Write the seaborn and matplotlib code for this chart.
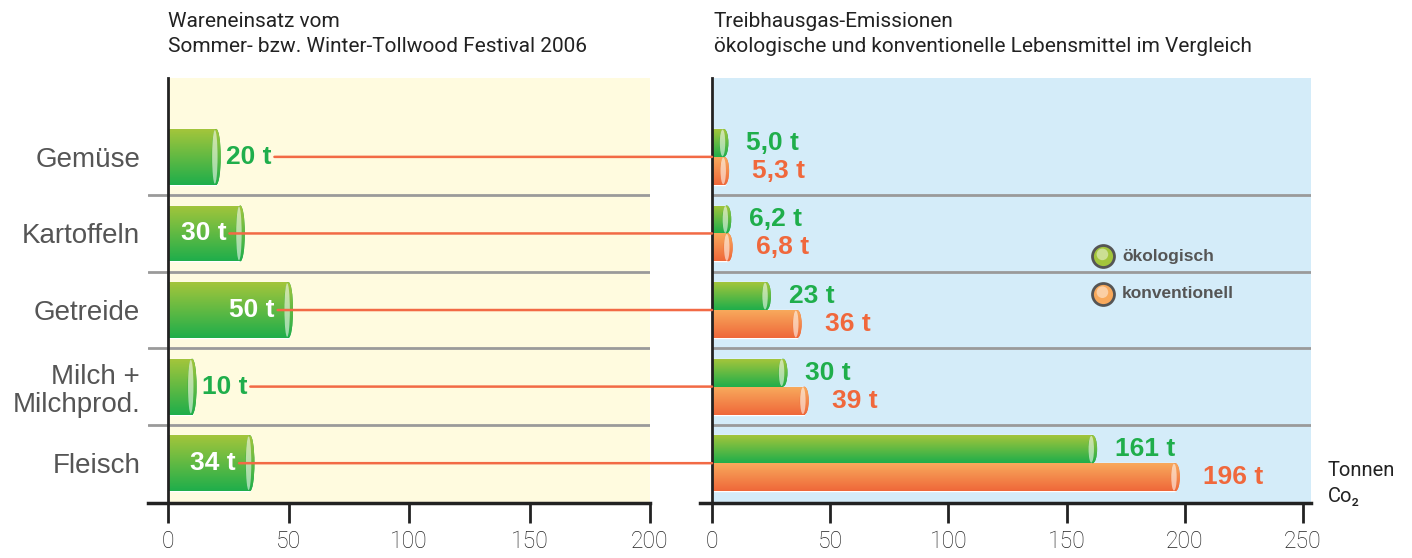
import numpy as np
import pandas as pd
import matplotlib
matplotlib.use('Agg')
import matplotlib.pyplot as plt
import seaborn as sns
from matplotlib.colors import LinearSegmentedColormap
from matplotlib.patches import Ellipse, ConnectionPatch

# data
categories = ['Gemüse', 'Kartoffeln', 'Getreide', 'Milch +\nMilchprod.', 'Fleisch']
einsatz = [20, 30, 50, 10, 34]          # Wareneinsatz in t
oeko = [5.0, 6.2, 23, 30, 161]          # t CO2, ökologisch
konv = [5.3, 6.8, 36, 39, 196]          # t CO2, konventionell
typ_labels = ['ökologisch', 'konventionell']

title_left = 'Wareneinsatz vom\nSommer- bzw. Winter-Tollwood Festival 2006'
title_right = 'Treibhausgas-Emissionen\nökologische und konventionelle Lebensmittel im Vergleich'

GREEN = ('#a3c53b', '#1fae4b')
ORANGE = ('#f8a95c', '#ef683a')
GREEN_TXT = '#1fae4b'
ORANGE_TXT = '#f0683c'
LINE_C = '#f26a45'
SEP_C = '#9a9a9a'
YELLOW_BG = '#fffbdf'
BLUE_BG = '#d4ecf9'

sns.set_style('white')
plt.rcParams['font.family'] = ['Liberation Sans', 'DejaVu Sans']
DIN = ['Roboto', 'DejaVu Sans']


def fmt(v):
    if v < 10:
        return f'{v:.1f} t'.replace('.', ',')
    return f'{v:.0f} t'


def gradient_bar(ax, patch, cols, px_per_unit):
    x0, y0 = patch.get_x(), patch.get_y()
    w, h = patch.get_width(), patch.get_height()
    cmap = LinearSegmentedColormap.from_list('g', list(cols))
    grad = np.linspace(0, 1, 64).reshape(-1, 1)
    im = ax.imshow(grad, cmap=cmap, aspect='auto', origin='upper',
                   extent=(x0, x0 + w, y0 + h, y0), zorder=2.5)
    im.set_clip_path(patch)
    # cylinder end cap
    capw = 9 / px_per_unit
    cap = Ellipse((x0 + w, y0 + h / 2), capw, h, facecolor=cols[1], edgecolor='none', zorder=2.6)
    ax.add_patch(cap)
    im2 = ax.imshow(grad, cmap=cmap, aspect='auto', origin='upper',
                    extent=(x0 + w - capw, x0 + w + capw, y0 + h, y0), zorder=2.7)
    im2.set_clip_path(cap)
    hl = Ellipse((x0 + w - capw * 0.15, y0 + h / 2), capw * 0.6, h * 0.96,
                 facecolor='white', edgecolor='none', alpha=0.55, zorder=2.8)
    ax.add_patch(hl)


fig = plt.figure(figsize=(14.12, 5.58), dpi=100)
W, H = 1412, 558
ax1 = fig.add_axes([148 / W, 1 - 503 / H, (650 - 148) / W, (503 - 78) / H])
ax2 = fig.add_axes([700 / W, 1 - 503 / H, (1311 - 700) / W, (503 - 78) / H])

df1 = pd.DataFrame({'Kategorie': categories, 'Menge': einsatz})
df2 = pd.DataFrame({'Kategorie': categories * 2,
                    'Emission': oeko + konv,
                    'Typ': [typ_labels[0]] * 5 + [typ_labels[1]] * 5})

sns.barplot(data=df1, x='Menge', y='Kategorie', orient='h', color=GREEN[1],
            width=0.73, ax=ax1, zorder=2)
sns.barplot(data=df2, x='Emission', y='Kategorie', hue='Typ', orient='h',
            palette=[GREEN[1], ORANGE[1]], width=0.73, ax=ax2, legend=False,
            zorder=2)

x1lim = (-8.3, 200)
x2lim = (-5.1, 253.4)
ylim = (4.52, -1.03)
px1 = (650 - 168) / 200
px2 = (1303 - 712) / 250

for p in ax1.containers[0]:
    gradient_bar(ax1, p, GREEN, px1)
for cont, cols in zip(ax2.containers, [GREEN, ORANGE]):
    for p in cont:
        gradient_bar(ax2, p, cols, px2)

# backgrounds and separators
ax1.axvspan(0, x1lim[1], color=YELLOW_BG, zorder=0, lw=0)
ax2.axvspan(0.8, x2lim[1], color=BLUE_BG, zorder=0, lw=0)
for i in range(len(categories) - 1):
    ax1.axhline(i + 0.5, color=SEP_C, lw=2, zorder=1)
    ax2.hlines(i + 0.5, 0, x2lim[1], color=SEP_C, lw=2, zorder=1)

# value labels, left
left_txt = []
for i, v in enumerate(einsatz):
    if v >= 30:
        t = ax1.annotate(fmt(v), (v, i), xytext=(-10, 0), textcoords='offset points',
                         ha='right', va='center', color='white', fontsize=19,
                         fontweight='bold', zorder=5)
    else:
        t = ax1.annotate(fmt(v), (v, i), xytext=(7, 0), textcoords='offset points',
                         ha='left', va='center', color=GREEN_TXT, fontsize=19,
                         fontweight='bold', zorder=5)
    left_txt.append(t)

# value labels, right
for p, v in zip(ax2.containers[0], oeko):
    ax2.annotate(fmt(v), (v, p.get_y() + p.get_height() / 2), xytext=(16, 0),
                 textcoords='offset points', ha='left', va='center',
                 color=GREEN_TXT, fontsize=19, fontweight='bold', zorder=5)
for p, v in zip(ax2.containers[1], konv):
    ax2.annotate(fmt(v), (v, p.get_y() + p.get_height() / 2), xytext=(20, 0),
                 textcoords='offset points', ha='left', va='center',
                 color=ORANGE_TXT, fontsize=19, fontweight='bold', zorder=5)

for ax, xl in [(ax1, x1lim), (ax2, x2lim)]:
    ax.set_xlim(*xl)
    ax.set_ylim(*ylim)
    ax.set_facecolor('white')
    ax.set_xlabel('')
    ax.set_ylabel('')
    ax.spines['top'].set_visible(False)
    ax.spines['right'].set_visible(False)
    ax.spines['left'].set_position(('data', 0))
    ax.spines['left'].set_linewidth(2)
    ax.spines['left'].set_color('#222222')
    ax.spines['bottom'].set_linewidth(2.5)
    ax.spines['bottom'].set_color('#222222')
    ax.tick_params(axis='x', direction='out', length=14.5, width=2, color='#222222',
                   pad=5, labelsize=16.5, labelcolor='#222222', bottom=True)

ax1.set_xticks([0, 50, 100, 150, 200])
ax2.set_xticks([0, 50, 100, 150, 200, 250])
for lab in ax1.get_xticklabels() + ax2.get_xticklabels():
    lab.set_family(DIN)
    lab.set_fontweight('light')

ax1.tick_params(axis='y', length=0, pad=20, labelsize=20, labelcolor='#555555')
ax1.set_yticks(range(len(categories)))
ax1.set_yticklabels(categories, linespacing=1.1)
ax2.set_yticks([])

# legend
for yy, cols, lab in [(0.581, GREEN, typ_labels[0]), (0.492, ORANGE, typ_labels[1])]:
    ax2.scatter([0.6596], [yy], s=250, color=cols[0], edgecolor='#555555',
                linewidth=2, transform=ax2.transAxes, zorder=6, clip_on=False)
    ax2.scatter([0.6586], [yy + 0.004], s=70, color='white', alpha=0.45,
                edgecolor='none', transform=ax2.transAxes, zorder=7, clip_on=False)
    ax2.text(0.6907, yy, lab, transform=ax2.transAxes, ha='left', va='center',
             fontsize=12.5, fontweight='bold', color='#555555', zorder=7)

# titles and unit
fig.text(168 / W, 1 - 34 / H, title_left, ha='left', va='center', fontsize=15,
         color='#222222', family=DIN, linespacing=1.42)
fig.text(714 / W, 1 - 34 / H, title_right, ha='left', va='center', fontsize=15,
         color='#222222', family=DIN, linespacing=1.42)
fig.text(1328 / W, 1 - 470 / H, 'Tonnen', ha='left', va='center', fontsize=14.5,
         color='#222222', family=DIN)
fig.text(1328 / W, 1 - 497 / H, 'Co₂', ha='left', va='center', fontsize=14.5,
         color='#222222', family=DIN)

# connector lines from left labels to right bars
fig.canvas.draw()
renderer = fig.canvas.get_renderer()
for i, t in enumerate(left_txt):
    bb = t.get_window_extent(renderer)
    xs = ax1.transData.inverted().transform((bb.x1 + 3, 0))[0]
    con = ConnectionPatch(xyA=(xs, i), coordsA=ax1.transData,
                          xyB=(0, i), coordsB=ax2.transData,
                          color=LINE_C, lw=1.8, zorder=10)
    fig.add_artist(con)

fig.savefig('out.png', dpi=100)
